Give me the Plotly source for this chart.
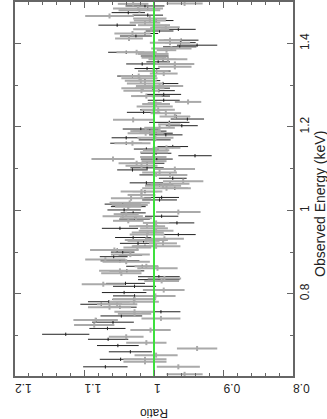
import plotly.graph_objects as go

# Group 1 (black) : energy (keV), ratio, ratio error
e_black = [1.490,1.484,1.474,1.468,1.455,1.444,1.434,1.430,1.424,1.418,1.408,1.402,1.396,1.392,1.379,1.370,1.362,1.356,1.351,1.340,
           1.334,1.322,1.311,1.304,1.293,1.287,1.278,1.274,1.264,1.257,1.241,1.235,1.225,1.219,1.211,1.203,1.195,1.190,1.185,1.181,
           1.174,1.169,1.161,1.153,1.147,1.137,1.131,1.123,1.113,1.102,1.097,1.085,1.077,1.066,1.061,1.053,1.045,1.031,1.025,1.015,
           1.009,1.001,0.994,0.986,0.979,0.970,0.962,0.957,0.942,0.935,0.927,0.921,0.914,0.905,0.900,0.893,0.889,0.879,0.866,0.855,
           0.841,0.834,0.825,0.818,0.803,0.795,0.787,0.781,0.775,0.768,0.757,0.747,0.737,0.732,0.717,0.703,0.691,0.676,0.661,0.643,0.625]
r_black = [1.013,1.009,1.037,1.009,0.997,1.053,0.965,0.992,1.013,1.026,0.961,0.962,0.938,0.963,1.040,0.999,0.987,0.994,1.017,1.010,
           0.996,1.031,1.013,0.987,1.002,0.993,0.986,1.001,0.986,0.999,1.001,1.015,0.968,0.952,0.978,0.960,1.019,1.006,0.997,0.983,
           1.040,0.999,1.040,0.973,1.011,0.997,0.941,0.996,1.010,1.010,1.031,0.997,0.973,1.011,0.992,0.970,1.013,0.989,0.992,1.045,
           1.037,1.043,1.030,0.989,1.028,0.967,1.010,1.049,0.965,1.030,1.015,1.023,1.013,1.053,1.045,1.034,1.058,1.049,1.017,1.039,
           0.993,0.993,1.041,1.028,1.043,1.028,1.029,1.065,1.076,1.049,0.990,1.047,1.083,1.059,1.067,1.127,1.066,1.052,1.034,1.048,1.070]
err_black = [0.028,0.019,0.024,0.022,0.025,0.027,0.025,0.020,0.019,0.023,0.025,0.022,0.029,0.024,0.026,0.020,0.019,0.017,0.023,0.018,
             0.020,0.022,0.022,0.022,0.025,0.023,0.025,0.024,0.023,0.010,0.019,0.024,0.020,0.024,0.029,0.023,0.026,0.024,0.024,0.024,
             0.021,0.023,0.023,0.022,0.018,0.022,0.024,0.023,0.025,0.024,0.022,0.024,0.020,0.024,0.020,0.019,0.018,0.025,0.025,0.026,
             0.025,0.024,0.018,0.024,0.022,0.025,0.016,0.026,0.025,0.026,0.023,0.026,0.017,0.026,0.017,0.017,0.020,0.028,0.023,0.025,
             0.030,0.030,0.028,0.031,0.032,0.031,0.031,0.030,0.030,0.024,0.028,0.030,0.022,0.030,0.026,0.034,0.029,0.030,0.031,0.030,0.032]

# Group 2 (grey)
e_grey = [1.496,1.495,1.484,1.480,1.466,1.460,1.455,1.450,1.444,1.439,1.434,1.424,1.412,1.408,1.402,1.388,1.384,1.379,1.375,1.366,
          1.362,1.351,1.344,1.334,1.328,1.322,1.317,1.311,1.304,1.298,1.293,1.287,1.274,1.260,1.255,1.249,1.241,1.233,1.225,1.217,
          1.206,1.198,1.190,1.185,1.174,1.161,1.150,1.144,1.139,1.128,1.123,1.118,1.113,1.107,1.099,1.091,1.085,1.070,1.064,1.059,
          1.053,1.045,1.037,1.029,1.018,1.013,1.009,0.996,0.991,0.986,0.981,0.975,0.970,0.962,0.957,0.951,0.947,0.942,0.932,0.929,
          0.921,0.914,0.911,0.905,0.894,0.882,0.877,0.866,0.861,0.855,0.849,0.837,0.831,0.823,0.809,0.795,0.787,0.781,0.775,0.768,
          0.757,0.752,0.741,0.737,0.725,0.713,0.697,0.683,0.669,0.653,0.643,0.637,0.625,0.607]
r_grey = [0.956,1.030,1.023,1.021,1.064,1.006,1.006,1.013,1.000,0.983,1.004,1.031,1.036,0.977,0.977,0.975,0.982,1.025,1.001,1.000,
          0.980,0.970,0.970,1.001,0.986,1.022,1.021,1.019,1.013,0.992,1.016,1.018,1.011,0.951,0.997,0.999,0.994,0.983,0.970,1.030,
          0.978,0.992,1.012,1.012,0.998,1.031,0.982,0.997,1.000,1.001,1.059,1.000,1.025,1.018,0.970,0.992,0.977,0.958,0.977,0.987,
          0.982,1.018,1.018,1.033,1.035,1.035,1.037,0.965,1.040,1.045,1.026,1.037,0.997,1.010,1.000,0.997,1.009,1.010,0.985,1.011,
          0.987,0.997,1.024,1.057,1.034,1.070,1.040,1.011,0.995,1.049,1.047,0.985,0.989,1.073,0.986,0.998,1.028,1.029,1.053,1.064,
          1.028,1.028,0.990,1.084,1.086,1.005,1.040,1.011,0.938,0.997,1.013,1.013,0.965,0.956]
err_grey = [0.026,0.022,0.036,0.030,0.035,0.024,0.023,0.022,0.023,0.020,0.026,0.026,0.020,0.017,0.029,0.029,0.014,0.029,0.022,0.018,
            0.028,0.028,0.024,0.022,0.020,0.026,0.026,0.023,0.026,0.034,0.031,0.026,0.022,0.019,0.020,0.026,0.024,0.022,0.022,0.029,
            0.016,0.022,0.022,0.026,0.026,0.026,0.020,0.019,0.020,0.019,0.031,0.018,0.026,0.023,0.029,0.025,0.025,0.029,0.028,0.026,
            0.035,0.030,0.020,0.029,0.029,0.026,0.019,0.032,0.018,0.029,0.023,0.022,0.019,0.026,0.020,0.025,0.023,0.025,0.028,0.031,
            0.020,0.035,0.020,0.035,0.028,0.029,0.034,0.017,0.029,0.030,0.029,0.024,0.025,0.031,0.030,0.029,0.031,0.036,0.029,0.031,
            0.029,0.024,0.028,0.032,0.029,0.029,0.025,0.029,0.029,0.031,0.031,0.031,0.031,0.026]

ebin_black = 0.004   # energy half-bin width (keV)
ebin_grey = 0.006

ratio_ticks = [0.8, 0.9, 1.0, 1.1, 1.2]
energy_ticks = [0.8, 1.0, 1.2, 1.4]

frame = "#666666"
fig = go.Figure()
fig.add_trace(go.Scatter(
    x=r_black, y=e_black, mode="markers",
    marker=dict(size=1, color="#222222"),
    error_x=dict(type="data", array=err_black, color="#222222", thickness=1, width=0),
    error_y=dict(type="constant", value=ebin_black, color="#222222", thickness=1, width=0),
    showlegend=False, hoverinfo="skip"))
fig.add_trace(go.Scatter(
    x=r_grey, y=e_grey, mode="markers",
    marker=dict(size=1, color="#aaaaaa"),
    error_x=dict(type="data", array=err_grey, color="#aaaaaa", thickness=2, width=0),
    error_y=dict(type="constant", value=ebin_grey, color="#aaaaaa", thickness=2, width=0),
    showlegend=False, hoverinfo="skip"))
fig.add_trace(go.Scatter(
    x=[1.0, 1.0], y=[0.603, 1.4995], mode="lines",
    line=dict(color="#3ee03e", width=2), showlegend=False, hoverinfo="skip"))

font = dict(family="Liberation Sans, Arial, sans-serif", size=12, color="#222222")
title_font = dict(family="Liberation Sans, Arial, sans-serif", size=14, color="#222222")
fig.update_layout(
    width=327, height=419,
    margin=dict(l=15, r=34, t=2, b=43, autoexpand=False),
    paper_bgcolor="white", plot_bgcolor="white",
    font=font,
    xaxis=dict(range=[1.2, 0.8], tickmode="array", tickvals=ratio_ticks,
               ticktext=["0.8", "0.9", "1", "1.1", "1.2"], tickangle=180,
               ticks="inside", ticklen=6, tickwidth=1, tickcolor=frame,
               showline=True, linecolor=frame, linewidth=1.5, mirror="ticks",
               showgrid=False, zeroline=False, automargin=False, ticklabelstandoff=4,
               minor=dict(dtick=0.02, tick0=0.8, ticks="inside", ticklen=3, tickcolor=frame, showgrid=False),
               tickfont=font),
    yaxis=dict(range=[0.603, 1.4995], side="right", tickmode="array", tickvals=energy_ticks,
               ticktext=["0.8", "1", "1.2", "1.4"], tickangle=-90,
               ticks="inside", ticklen=6, tickwidth=1, tickcolor=frame,
               showline=True, linecolor=frame, linewidth=1.5, mirror="ticks",
               showgrid=False, zeroline=False, automargin=False,
               minor=dict(dtick=0.1, tick0=0.6, ticks="inside", ticklen=3, tickcolor=frame, showgrid=False),
               tickfont=font),
    annotations=[
        dict(text="Ratio", textangle=180, xref="paper", yref="paper", x=0.5, y=0,
             yshift=-37, showarrow=False, font=font, xanchor="center", yanchor="middle"),
        dict(text="Observed Energy (keV)", textangle=-90, xref="paper", yref="paper", x=1, y=0.46,
             xshift=27, showarrow=False, font=title_font, xanchor="center", yanchor="middle"),
    ],
)
fig.write_html("out.html", config={"displayModeBar": False},
               post_script="document.body.style.margin='0';document.body.style.padding='0';")
